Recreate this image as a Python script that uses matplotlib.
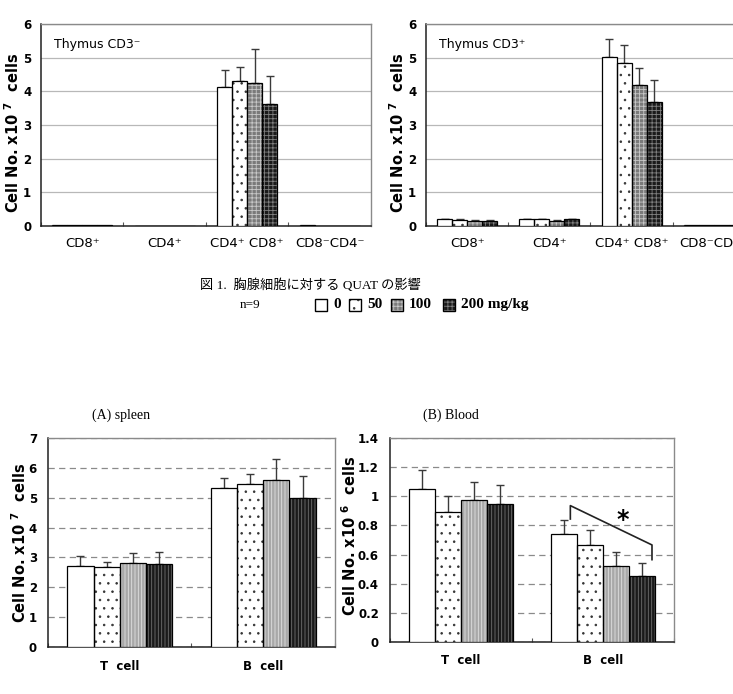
import matplotlib
matplotlib.use("Agg")
import matplotlib.pyplot as plt
import numpy as np

# ---------------- data ----------------
doses = ["0", "50", "100", "200 mg/kg"]

thy_cats = ["CD8\u207a", "CD4\u207a", "CD4\u207a CD8\u207a", "CD8\u207bCD4\u207b"]
cd3neg_mean = [[0.02, 0.0, 4.13, 0.02],
               [0.02, 0.0, 4.30, 0.0],
               [0.02, 0.0, 4.24, 0.0],
               [0.02, 0.0, 3.62, 0.0]]
cd3neg_err = [[0.0, 0.0, 0.49, 0.0],
              [0.0, 0.0, 0.43, 0.0],
              [0.0, 0.0, 1.01, 0.0],
              [0.0, 0.0, 0.84, 0.0]]
cd3pos_mean = [[0.20, 0.20, 5.01, 0.02],
               [0.18, 0.20, 4.85, 0.02],
               [0.15, 0.16, 4.19, 0.02],
               [0.16, 0.20, 3.68, 0.02]]
cd3pos_err = [[0.02, 0.02, 0.54, 0.0],
              [0.04, 0.02, 0.53, 0.0],
              [0.02, 0.02, 0.50, 0.0],
              [0.02, 0.02, 0.66, 0.0]]

cell_cats = ["T  cell", "B  cell"]
spleen_mean = [[2.71, 5.33], [2.67, 5.46], [2.82, 5.58], [2.79, 4.98]]
spleen_err = [[0.35, 0.34], [0.19, 0.32], [0.34, 0.73], [0.40, 0.76]]
blood_mean = [[1.053, 0.741], [0.892, 0.668], [0.973, 0.519], [0.947, 0.455]]
blood_err = [[0.127, 0.097], [0.113, 0.103], [0.127, 0.099], [0.131, 0.090]]

# significance bracket (B cell, blood): x from bar 0 to bar 3
brk_x = [1.27, 1.27, 1.845, 1.845]
brk_y = [0.844, 0.936, 0.666, 0.565]

# ---------------- style ----------------
SANS = ["DejaVu Sans"]
SERIF_JP = ["Liberation Serif", "Noto Sans CJK JP"]
plt.rcParams["hatch.linewidth"] = 0.6

top_styles = [
    dict(fc="white", hatch=None, hc="white"),
    dict(fc="white", hatch="..", hc="#333333"),
    dict(fc="#7a7a7a", hatch="++++", hc="#c8c8c8"),
    dict(fc="#1a1a1a", hatch="++++", hc="#808080"),
]
bot_styles = [
    dict(fc="white", hatch=None, hc="white"),
    dict(fc="white", hatch="..", hc="#333333"),
    dict(fc="#a8a8a8", hatch="|||||", hc="#e0e0e0"),
    dict(fc="#1a1a1a", hatch="|||||", hc="#707070"),
]

GROUP_W = 0.73
NS = 4
BW = GROUP_W / NS


def draw_bars(ax, means, errs, styles, ncat):
    centers = np.arange(ncat) + 0.5
    for i in range(NS):
        xs = centers + (i - (NS - 1) / 2) * BW
        st = styles[i]
        ax.bar(xs, means[i], BW, color=st["fc"], edgecolor=st["hc"],
               hatch=st["hatch"], linewidth=0, zorder=3)
        ax.bar(xs, means[i], BW, fill=False, edgecolor="black",
               linewidth=0.9, zorder=4)
        e = np.array(errs[i])
        m = np.array(means[i])
        mask = e > 0
        ax.errorbar(xs[mask], m[mask], yerr=[np.zeros(mask.sum()), e[mask]],
                    fmt="none", ecolor="#3a3a3a", elinewidth=1.0,
                    capsize=2.8, capthick=1.0, zorder=2)
    ax.set_xlim(0, ncat)
    ax.set_xticks(np.arange(ncat + 1))
    ax.set_xticklabels([])
    ax.set_xticks(centers, minor=True)
    ax.tick_params(axis="x", which="major", direction="in", length=3,
                   color="#555555")
    ax.tick_params(axis="x", which="minor", length=0)


def frame(ax):
    for s in ["top", "right"]:
        ax.spines[s].set_color("#8a8a8a")
        ax.spines[s].set_linewidth(1.0)
    for s in ["left", "bottom"]:
        ax.spines[s].set_color("#202020")
        ax.spines[s].set_linewidth(1.1)


def bold_ticks(ax):
    for lab in ax.get_yticklabels():
        lab.set_fontweight("bold")
        lab.set_family(SANS)


W, H = 733, 694
fig = plt.figure(figsize=(7.33, 6.94), dpi=100)

ylab = "Cell No. x10 $^{\\mathbf{%d}}$  cells"


def ylabel_at(px, py, exp):
    fig.text(px / W, 1 - py / H, ylab % exp, rotation=90, ha="center",
             va="center", fontsize=10.5, fontweight="bold", family=SANS)


# ---- top panels ----
top_pos = [(41 / W, 1 - 226 / H, 330 / W, 202 / H),
           (426 / W, 1 - 226 / H, 329 / W, 202 / H)]
top_data = [(cd3neg_mean, cd3neg_err, "Thymus CD3\u207b", 13),
            (cd3pos_mean, cd3pos_err, "Thymus CD3\u207a", 398)]
for pos, (m, e, title, lx) in zip(top_pos, top_data):
    ax = fig.add_axes(pos)
    draw_bars(ax, m, e, top_styles, 4)
    ax.set_ylim(0, 6)
    ax.set_yticks(range(0, 7))
    ax.yaxis.grid(True, color="#b8b8b8", linewidth=0.9, linestyle="-")
    ax.set_axisbelow(True)
    ax.set_xticklabels(thy_cats, minor=True, fontsize=9.5, family=SANS)
    ax.tick_params(axis="x", which="minor", pad=8)
    ax.tick_params(axis="y", length=0, pad=7, labelsize=8.5)
    bold_ticks(ax)
    ylabel_at(lx, 133, 7)
    ax.text(0.04, 0.9, title, transform=ax.transAxes, fontsize=9,
            family=SANS, va="center", ha="left")
    frame(ax)

# ---- bottom panels ----
ax = fig.add_axes((48 / W, 1 - 647 / H, 287 / W, 209 / H))
draw_bars(ax, spleen_mean, spleen_err, bot_styles, 2)
ax.set_ylim(0, 7)
ax.set_yticks(range(0, 8))
ax.yaxis.grid(True, color="#8a8a8a", linewidth=0.9, linestyle=(0, (5, 3.5)))
ax.set_axisbelow(True)
ax.set_xticklabels(cell_cats, minor=True, fontsize=8.5, fontweight="bold")
ax.tick_params(axis="x", which="minor", pad=9)
ax.tick_params(axis="y", length=0, pad=8, labelsize=8.5)
bold_ticks(ax)
ylabel_at(20, 543, 7)
frame(ax)

ax2 = fig.add_axes((390 / W, 1 - 642 / H, 284 / W, 204 / H))
draw_bars(ax2, blood_mean, blood_err, bot_styles, 2)
ax2.set_ylim(0, 1.4)
ticks = np.round(np.arange(0, 1.41, 0.2), 1)
ax2.set_yticks(ticks)
ax2.set_yticklabels(["0", "0.2", "0.4", "0.6", "0.8", "1", "1.2", "1.4"])
ax2.yaxis.grid(True, color="#8a8a8a", linewidth=0.9, linestyle=(0, (5, 3.5)))
ax2.set_axisbelow(True)
ax2.set_xticklabels(cell_cats, minor=True, fontsize=8.5, fontweight="bold")
ax2.tick_params(axis="x", which="minor", pad=9)
ax2.tick_params(axis="y", length=0, pad=8, labelsize=8.5)
bold_ticks(ax2)
ylabel_at(350, 536, 6)
ax2.plot(brk_x, brk_y, color="#222222", linewidth=1.2, zorder=5,
         clip_on=False)
ax2.text(1.64, 0.84, "*", fontsize=17, fontweight="bold", ha="center",
         va="center", zorder=6)
frame(ax2)

# ---- figure texts ----
fig.text(200 / W, 1 - 285 / H, "図 1.  胸腺細胞に対する QUAT の影響",
         family=SERIF_JP, fontsize=9.5, va="center", ha="left")
fig.text(240 / W, 1 - 305 / H, "n=9", family=["Liberation Serif"],
         fontsize=9.5, va="center", ha="left")

# legend row
leg_items = [(315, "0"), (349, "50"), (391, "100"), (443, "200 mg/kg")]
box_w, box_h = 12 / W, 12 / H
for (px, lbl), st in zip(leg_items, top_styles):
    x0 = px / W
    y0 = 1 - 311 / H
    r = matplotlib.patches.Rectangle((x0, y0), box_w, box_h,
                                     transform=fig.transFigure,
                                     facecolor=st["fc"], edgecolor=st["hc"],
                                     hatch=st["hatch"], linewidth=0)
    fig.patches.append(r)
    r2 = matplotlib.patches.Rectangle((x0, y0), box_w, box_h,
                                      transform=fig.transFigure, fill=False,
                                      edgecolor="black", linewidth=1.0)
    fig.patches.append(r2)
    fig.text(x0 + box_w + 6 / W, y0 + box_h / 2, lbl,
             family=["Liberation Serif"], fontweight="bold", fontsize=11,
             va="center", ha="left")

fig.text(92 / W, 1 - 415 / H, "(A) spleen", family=["Liberation Serif"],
         fontsize=10, va="center", ha="left")
fig.text(423 / W, 1 - 415 / H, "(B) Blood", family=["Liberation Serif"],
         fontsize=10, va="center", ha="left")

fig.savefig("out.png", dpi=100)
